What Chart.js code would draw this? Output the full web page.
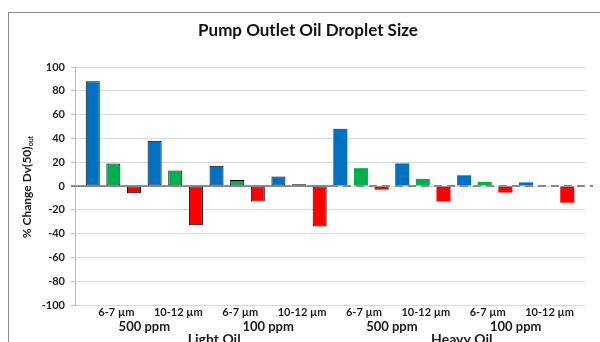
<!DOCTYPE html>
<html>
<head>
<meta charset="utf-8">
<script src="https://cdn.jsdelivr.net/npm/chart.js@4/dist/chart.umd.min.js"></script>
<style>
  html, body { margin: 0; padding: 0; background: #fff; overflow: hidden; }
  #wrap { position: relative; width: 600px; height: 342px; }
  #frame { position: absolute; left: 8px; top: 12px; width: 700px; height: 400px; border: 1px solid #8c8c8c; box-sizing: border-box; }
  canvas { position: absolute; left: 0; top: 0; }
</style>
</head>
<body>
<div id="wrap">
  <div id="frame"></div>
  <canvas id="chart" width="600" height="342"></canvas>
</div>
<script>
// Category levels (innermost first)
const sizes = ['6-7 µm', '10-12 µm', '6-7 µm', '10-12 µm', '6-7 µm', '10-12 µm', '6-7 µm', '10-12 µm'];
const concentrations = ['500 ppm', '100 ppm', '500 ppm', '100 ppm'];
const oils = ['Light Oil', 'Heavy Oil'];

// Series values (% change)
const blueValues = [88, 38, 17, 8, 48, 19, 9, 3];
const greenValues = [19, 13, 5, 1.5, 15, 6, 3.5, 0.4];
const redValues = [-6, -33, -13, -34, -3, -13, -5.5, -14];

const yTicks = [100, 80, 60, 40, 20, 0, -20, -40, -60, -80, -100];

const chartTitle = 'Pump Outlet Oil Droplet Size';
const FONT = 'Lato, "Open Sans", sans-serif';

function points(values) {
    return values.map((v, i) => ({ x: i, y: v }));
}

// light oil bars have a black outline, heavy oil ones don't
function outline(ctx) {
    return ctx.dataIndex < sizes.length / oils.length ? 1 : 0;
}

// multi-level category labels + zero line + titles
const extras = {
    id: 'extras',
    afterDatasetsDraw(chart) {
        const { ctx, chartArea, scales } = chart;
        const y0 = scales.y.getPixelForValue(0);
        const split = scales.x.getPixelForValue(3.5);
        ctx.save();
        ctx.strokeStyle = '#6e6e6e';
        ctx.lineWidth = 1.5;
        ctx.beginPath();
        ctx.moveTo(chartArea.left - 4, y0);
        ctx.lineTo(split, y0);
        ctx.stroke();
        ctx.strokeStyle = '#8a8a8a';
        ctx.lineWidth = 2;
        ctx.setLineDash([8, 5]);
        ctx.beginPath();
        ctx.moveTo(split, y0);
        ctx.lineTo(chartArea.right + 8, y0);
        ctx.stroke();
        ctx.restore();
    },
    afterDraw(chart) {
        const { ctx, scales } = chart;
        const x = scales.x;
        ctx.save();
        ctx.fillStyle = '#111';
        ctx.textAlign = 'center';
        ctx.textBaseline = 'middle';

        ctx.font = 'bold 17px ' + FONT;
        ctx.fillText(chartTitle, 308, 31);

        ctx.fillStyle = '#1a1a1a';
        ctx.font = 'bold 11px ' + FONT;
        sizes.forEach((s, i) => ctx.fillText(s, x.getPixelForValue(i) + 3, 312));

        ctx.font = 'bold 13px ' + FONT;
        concentrations.forEach((c, j) => {
            const px = (x.getPixelForValue(2 * j) + x.getPixelForValue(2 * j + 1)) / 2;
            ctx.fillText(c, px, 327);
        });

        ctx.font = 'bold 14px ' + FONT;
        oils.forEach((o, k) => {
            const px = (x.getPixelForValue(4 * k) + x.getPixelForValue(4 * k + 3)) / 2;
            ctx.fillText(o, px + 8, 339);
        });

        // y axis title with subscript
        ctx.translate(27, 187);
        ctx.rotate(-Math.PI / 2);
        const main = '% Change Dv(50)';
        const sub = 'out';
        ctx.font = 'bold 12px ' + FONT;
        const wMain = ctx.measureText(main).width;
        ctx.font = 'bold 7px ' + FONT;
        const wSub = ctx.measureText(sub).width;
        const start = -(wMain + wSub) / 2;
        ctx.textAlign = 'left';
        ctx.font = 'bold 12px ' + FONT;
        ctx.fillText(main, start, 0);
        ctx.font = 'bold 7px ' + FONT;
        ctx.fillText(sub, start + wMain, 4);
        ctx.restore();
    }
};

const ctx = document.getElementById('chart').getContext('2d');
new Chart(ctx, {
    type: 'bar',
    data: {
        datasets: [
            { label: 'blue', data: points(blueValues), backgroundColor: '#0070c0', borderColor: '#000', borderWidth: outline },
            { label: 'green', data: points(greenValues), backgroundColor: '#00b050', borderColor: '#000', borderWidth: outline },
            { label: 'red', data: points(redValues), backgroundColor: '#ff0000', borderColor: '#000', borderWidth: outline }
        ]
    },
    options: {
        responsive: false,
        animation: false,
        layout: { padding: { top: 67, right: 15, bottom: 37, left: 0 } },
        datasets: { bar: { categoryPercentage: 1, barPercentage: 0.68, borderSkipped: false } },
        plugins: {
            legend: { display: false },
            tooltip: { enabled: false },
            title: { display: false }
        },
        scales: {
            x: {
                type: 'linear',
                offset: false,
                min: -0.62,
                max: sizes.length - 1 + 0.62,
                ticks: { display: false },
                grid: { display: false },
                border: { display: false },
                afterFit: s => { s.height = 0; }
            },
            y: {
                min: -100,
                max: 100,
                afterBuildTicks: s => { s.ticks = yTicks.map(v => ({ value: v })); },
                ticks: {
                    color: '#222',
                    padding: 6,
                    font: { family: FONT, size: 11, weight: 'bold' }
                },
                grid: { color: '#d9d9d9', tickLength: 4, tickColor: '#bdbdbd' },
                border: { color: '#bdbdbd' },
                afterFit: s => { s.width = 75; }
            }
        }
    },
    plugins: [extras]
});
</script>
</body>
</html>
